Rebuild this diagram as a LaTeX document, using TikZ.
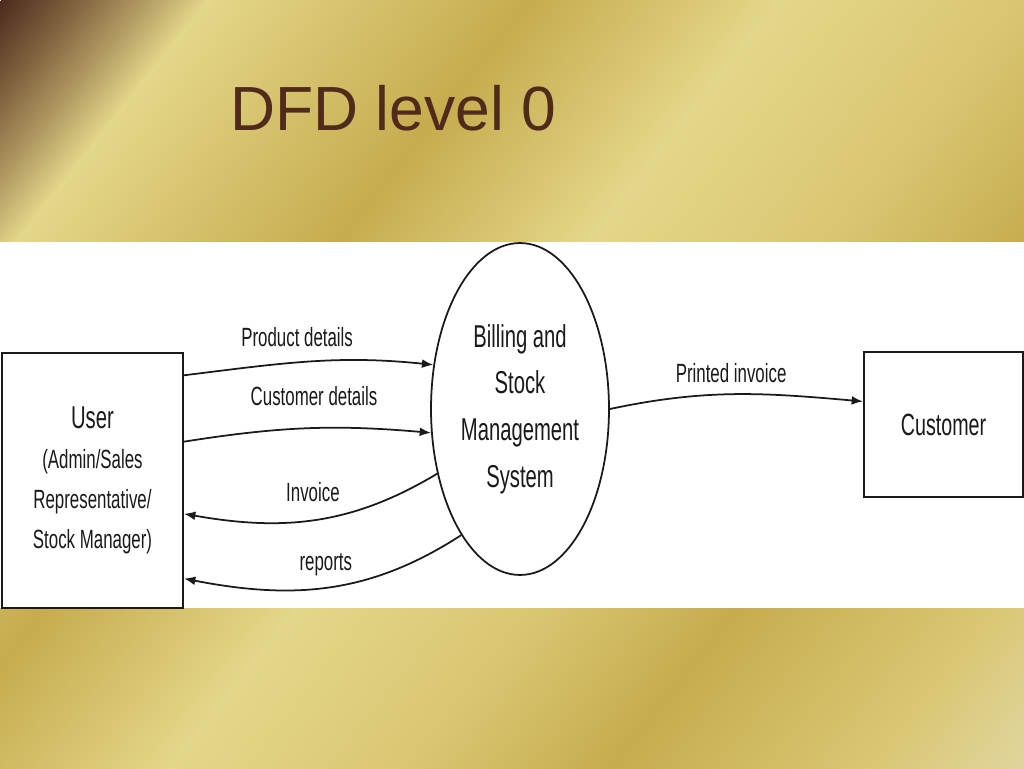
\documentclass[tikz,border=0pt]{standalone}
\usepackage{fontspec}
\setmainfont{Liberation Sans}
\newfontfamily\narrowsans[FakeStretch=0.64]{Liberation Sans}
\usepackage{tikz}
\usetikzlibrary{arrows.meta}
\usetikzlibrary{shapes.geometric}
\definecolor{bgA}{HTML}{4C2A1E}
\definecolor{bgB}{HTML}{7D5E3C}
\definecolor{bgC}{HTML}{B09A62}
\definecolor{bgLight}{HTML}{E4D68A}
\definecolor{bgDark}{HTML}{C6AC4E}
\definecolor{bgMid}{HTML}{D9C672}
\definecolor{bgPale}{HTML}{E2D8A6}
\definecolor{titlebrown}{HTML}{502A1A}
\definecolor{ink}{HTML}{1A1A1A}
\pgfdeclarehorizontalshading{goldbg}{800bp}{color(0bp)=(bgA); color(32bp)=(bgB); color(64bp)=(bgC); color(92bp)=(bgLight); color(235bp)=(bgDark); color(346bp)=(bgLight); color(454bp)=(bgMid); color(541bp)=(bgDark); color(652bp)=(bgMid); color(740bp)=(bgPale)}
\tikzset{entity/.style = {shape=rectangle,draw=ink,line width=1.1pt,fill=white,text=ink,inner sep=0pt}}
\tikzset{process/.style = {shape=ellipse,draw=ink,line width=1pt,fill=white,text=ink,inner sep=0pt,align=center,
    minimum width=3.56cm,minimum height=6.64cm,font=\narrowsans\fontsize{18}{26.5}\selectfont}}
\tikzset{flow/.style = {->,> = {Latex[length=6.5pt,width=5pt]},draw=ink,line width=1pt}}
\tikzset{lbl/.style = {font=\narrowsans\fontsize{15}{18}\selectfont,text=ink,inner sep=0pt}}

\begin{document}
\begin{tikzpicture}[x=0.02cm,y=0.02cm]
    \useasboundingbox (0,0) rectangle (1024,768);

    % Background
    \begin{scope}
        \clip (0,0) rectangle (1024,768);
        \node[inner sep=0pt,anchor=west,rotate=-38.5] (bg) at (0,768) {\pgfuseshading{goldbg}};
    \end{scope}
    \fill[white] (0,160) rectangle (1024,526);

    % Title
    \node[anchor=base west,inner sep=0pt,text=titlebrown,font=\fontsize{35.5}{40}\selectfont] (title) at (230,637) {DFD level 0};

    % Vertices
    \node[entity,minimum width=3.62cm,minimum height=5.1cm,align=center,font=\narrowsans\fontsize{15}{22.7}\selectfont] (user) at (92.5,287.5)
        {{\fontsize{18}{22.7}\selectfont User}\\(Admin/Sales\\Representative/\\Stock Manager)};
    \node[process] (bsms) at (520,359) {Billing and\\Stock\\Management\\System};
    \node[entity,minimum width=3.18cm,minimum height=2.9cm,font=\narrowsans\fontsize{17.5}{20}\selectfont] (cust) at (943.5,343.5) {Customer};

    % Edges
    % user
    \draw[flow] (user.49.6) to[out=7,in=174] node[lbl,pos=.45,above=8.5pt] (lprod) {Product details} (bsms.153.4);
    \draw[flow] (user.23.7) to[out=9,in=175] node[lbl,pos=.53,above=12.5pt] (lcustd) {Customer details} (bsms.195.9);

    % bsms
    \draw[flow] (bsms.218.8) to[out=211,in=-10] node[lbl,pos=.51,above=10pt] (linv) {Invoice} (user.-20.3);
    \draw[flow] (bsms.245.4) to[out=213,in=-11] node[lbl,pos=.51,above=6pt] (lrep) {reports} (user.-47.7);
    \draw[flow] (bsms.east) to[out=12,in=175] node[lbl,pos=.48,above=6.2pt] (lprint) {Printed invoice} (cust.164.2);
\end{tikzpicture}
\end{document}
